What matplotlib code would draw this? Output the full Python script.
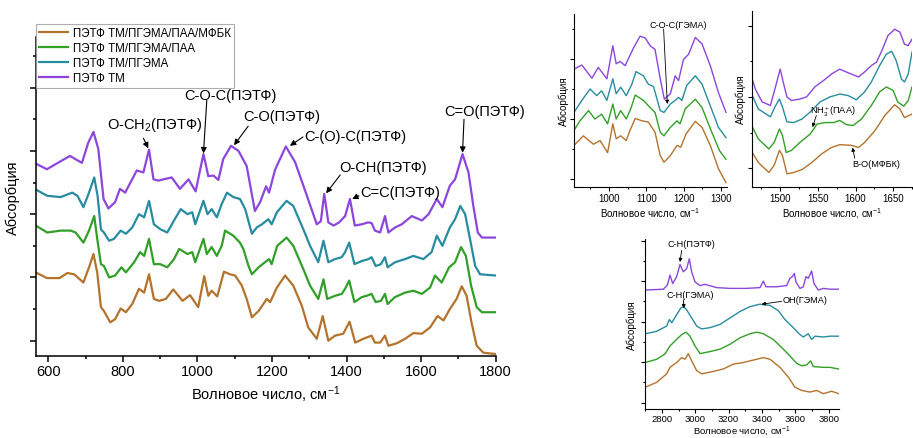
import matplotlib
matplotlib.use("Agg")
import matplotlib.pyplot as plt
from matplotlib.ticker import MultipleLocator, NullFormatter

plt.rcParams['font.family'] = ['Liberation Sans', 'DejaVu Sans']
plt.rcParams['mathtext.fontset'] = 'custom'
plt.rcParams['mathtext.rm'] = 'Liberation Sans'
plt.rcParams['mathtext.it'] = 'Liberation Sans:italic'
plt.rcParams['mathtext.bf'] = 'Liberation Sans:bold'

# ---------------- data: main panel (600-1800 cm-1) ----------------
series_names = ["ПЭТФ ТМ/ПГЭМА/ПАА/МФБК", "ПЭТФ ТМ/ПГЭМА/ПАА", "ПЭТФ ТМ/ПГЭМА", "ПЭТФ ТМ"]
series_colors = ["#B4732D", "#32A028", "#288CA0", "#8C46DC"]

main_wn_pet = [566,596,631,658,690,707,721,734,748,761,779,792,806,837,855,870,882,895,908,931,953,976,995,1016,1029,1043,1056,1069,1090,1110,1132,1154,1168,1184,1192,1208,1237,1262,1290,1320,1331,1340,1351,1365,1380,1396,1409,1422,1441,1458,1467,1476,1490,1503,1512,1530,1548,1575,1602,1620,1642,1657,1677,1691,1711,1727,1740,1752,1763,1800]
main_ab_pet = [2.80,2.71,2.83,2.92,2.81,3.13,3.30,3.03,2.24,2.09,2.19,2.40,2.34,2.69,2.66,3.02,2.55,2.53,2.55,2.58,2.40,2.55,2.36,2.95,2.60,2.61,2.54,2.87,3.08,3.00,2.76,2.05,2.19,2.44,2.34,2.70,3.07,2.82,2.35,1.84,1.89,2.32,1.87,1.82,1.87,1.97,2.24,1.82,1.84,1.87,1.86,1.74,1.71,1.97,1.71,1.79,1.84,1.97,1.90,2.00,2.24,2.11,2.45,2.55,2.95,2.66,2.13,1.71,1.63,1.63]

main_wn_hema = [566,597,633,664,678,694,709,723,732,741,749,763,776,794,808,825,843,857,870,883,901,919,937,955,973,986,994,1016,1027,1038,1052,1065,1079,1096,1114,1128,1146,1159,1173,1190,1199,1213,1239,1257,1284,1302,1324,1338,1351,1369,1387,1396,1407,1421,1441,1459,1467,1478,1492,1503,1510,1530,1557,1579,1606,1628,1642,1657,1677,1691,1705,1718,1731,1745,1758,1800]
main_ab_hema = [2.39,2.29,2.27,2.34,2.29,2.11,2.34,2.58,2.29,1.76,1.71,1.58,1.61,1.74,1.69,1.79,2.00,1.95,2.21,1.84,1.76,1.71,1.90,2.08,2.00,2.03,1.84,2.21,2.00,2.08,1.95,2.16,2.34,2.27,2.24,2.08,1.69,1.79,1.84,1.92,1.84,2.03,2.21,2.13,1.76,1.50,1.24,1.58,1.24,1.29,1.32,1.40,1.55,1.21,1.26,1.29,1.32,1.18,1.21,1.32,1.16,1.24,1.29,1.34,1.29,1.40,1.66,1.50,1.79,1.92,2.13,2.00,1.61,1.18,1.05,1.03]

main_wn_paa = [566,597,633,660,673,694,709,723,731,741,749,763,779,796,808,830,846,857,870,883,900,919,937,951,973,986,994,1016,1025,1038,1052,1065,1074,1096,1114,1123,1137,1146,1164,1181,1192,1199,1214,1239,1257,1284,1302,1324,1338,1348,1369,1387,1396,1407,1421,1441,1454,1467,1478,1492,1503,1510,1530,1557,1579,1602,1624,1637,1655,1675,1691,1707,1720,1734,1749,1763,1800]
main_ab_paa = [1.82,1.71,1.74,1.74,1.71,1.55,1.74,1.97,1.61,1.21,1.18,1.00,1.03,1.16,1.08,1.24,1.40,1.34,1.61,1.21,1.21,1.16,1.29,1.45,1.37,1.40,1.24,1.61,1.37,1.48,1.34,1.50,1.74,1.66,1.55,1.45,1.18,1.05,1.16,1.24,1.29,1.21,1.50,1.63,1.50,1.13,0.87,0.66,0.97,0.66,0.71,0.74,0.82,0.95,0.61,0.69,0.71,0.74,0.61,0.63,0.74,0.58,0.69,0.76,0.79,0.74,0.84,1.03,0.92,1.16,1.24,1.48,1.34,0.87,0.53,0.45,0.45]

main_wn_mfbk = [566,596,630,651,669,694,709,721,731,741,749,766,779,794,808,825,843,857,870,883,897,915,935,960,980,1002,1018,1029,1038,1053,1071,1087,1101,1119,1132,1146,1164,1186,1195,1213,1235,1257,1280,1297,1320,1336,1351,1369,1391,1408,1423,1445,1467,1476,1490,1503,1512,1535,1557,1579,1602,1624,1644,1660,1677,1695,1709,1722,1735,1749,1767,1800]
main_ab_mfbk = [1.08,0.99,0.99,1.07,1.05,0.92,1.16,1.37,1.08,0.53,0.47,0.29,0.34,0.51,0.45,0.58,0.82,0.76,1.05,0.66,0.63,0.66,0.81,0.63,0.72,0.53,1.02,0.71,0.79,0.70,1.09,1.05,1.03,0.87,0.66,0.37,0.47,0.66,0.61,0.84,1.03,0.87,0.55,0.21,0.03,0.39,0.00,0.08,0.11,0.30,-0.03,0.03,0.08,-0.03,-0.03,0.08,-0.08,-0.04,0.03,0.12,0.11,0.21,0.39,0.32,0.50,0.66,0.86,0.71,0.29,-0.08,-0.19,-0.21]

# ---------------- data: inset 1 (900-1320 cm-1) ----------------
in1_wn_pet = [906,927,954,971,994,1010,1019,1029,1043,1065,1083,1097,1110,1123,1137,1148,1164,1177,1186,1199,1213,1231,1249,1271,1293,1313]
in1_ab_pet = [1.83,1.90,1.68,1.86,1.67,2.22,1.92,1.96,1.89,2.18,2.38,2.35,2.22,2.16,1.67,1.33,1.42,1.72,1.64,1.99,2.08,2.36,2.25,1.89,1.44,1.11]
in1_wn_hema = [906,927,949,967,980,994,1010,1019,1031,1046,1061,1072,1092,1105,1119,1137,1147,1164,1177,1186,1195,1208,1231,1249,1271,1293,1313]
in1_ab_hema = [1.11,1.31,1.50,1.39,1.47,1.31,1.67,1.42,1.53,1.39,1.58,1.79,1.72,1.58,1.54,1.14,1.11,1.25,1.31,1.36,1.31,1.56,1.72,1.58,1.22,0.86,0.69]
in1_wn_paa = [906,922,945,962,980,996,1010,1019,1031,1046,1058,1070,1092,1110,1123,1137,1147,1164,1182,1190,1204,1231,1249,1275,1296,1313]
in1_ab_paa = [0.81,0.97,1.14,1.00,1.08,0.92,1.25,1.00,1.14,1.00,1.17,1.40,1.31,1.19,1.11,0.78,0.72,0.86,0.97,0.92,1.17,1.33,1.19,0.78,0.47,0.33]
in1_wn_mfbk = [906,931,958,976,996,1010,1019,1031,1046,1056,1070,1088,1105,1123,1137,1147,1164,1182,1192,1206,1231,1249,1271,1293,1313]
in1_ab_mfbk = [0.56,0.72,0.58,0.64,0.44,0.92,0.67,0.72,0.64,0.81,1.01,0.97,0.95,0.78,0.39,0.28,0.39,0.56,0.53,0.75,0.96,0.86,0.56,0.17,-0.06]

# ---------------- data: inset 2 (1460-1675 cm-1) ----------------
in2_wn_pet = [1463,1467,1476,1487,1493,1500,1504,1509,1515,1526,1535,1546,1560,1568,1579,1590,1604,1612,1621,1628,1635,1643,1652,1659,1665,1670,1675]
in2_ab_pet = [1.25,1.11,0.93,0.88,1.11,1.39,1.21,1.00,0.95,0.97,1.00,1.14,1.25,1.32,1.39,1.34,1.28,1.35,1.44,1.49,1.65,1.86,1.95,1.91,1.74,1.72,1.81]
in2_wn_hema = [1463,1471,1487,1493,1499,1503,1509,1518,1529,1540,1553,1566,1579,1590,1601,1612,1621,1632,1641,1648,1654,1661,1665,1670,1675]
in2_ab_hema = [1.02,0.83,0.72,0.86,0.97,0.86,0.65,0.64,0.69,0.79,0.93,1.00,1.04,1.02,0.96,1.07,1.21,1.44,1.60,1.64,1.51,1.25,1.21,1.32,1.63]
in2_wn_paa = [1463,1471,1485,1492,1499,1503,1508,1515,1526,1540,1549,1560,1571,1579,1588,1597,1608,1621,1632,1641,1650,1656,1664,1670,1675]
in2_ab_paa = [0.58,0.41,0.27,0.36,0.55,0.46,0.22,0.25,0.36,0.48,0.62,0.64,0.64,0.67,0.61,0.60,0.69,0.88,1.07,1.14,1.09,0.93,0.87,0.95,1.14]
in2_wn_mfbk = [1463,1471,1485,1492,1499,1503,1509,1518,1529,1542,1555,1568,1579,1595,1604,1612,1626,1639,1652,1659,1665,1675]
in2_ab_mfbk = [0.22,0.08,-0.06,0.04,0.25,0.18,-0.08,-0.06,-0.02,0.08,0.20,0.29,0.33,0.32,0.29,0.36,0.53,0.74,0.89,0.83,0.71,0.76]

# ---------------- data: inset 3 (2700-3860 cm-1) ----------------
in3_wn_pet = [2700,2808,2832,2848,2864,2888,2908,2928,2948,2964,2978,2998,3028,3058,3128,3208,3308,3388,3408,3424,3488,3548,3568,3582,3594,3604,3628,3648,3664,3678,3698,3712,3738,3768,3808,3860]
in3_ab_pet = [2.78,2.80,2.90,3.15,2.94,3.11,3.41,3.23,3.31,3.55,3.23,2.98,2.89,2.92,2.84,2.82,2.82,2.84,3.00,2.86,2.86,2.89,3.07,3.11,3.19,2.98,2.82,2.86,3.11,3.07,3.25,2.94,2.78,2.82,2.80,2.80]
in3_wn_hema = [2700,2768,2828,2844,2858,2888,2912,2928,2948,2978,3008,3038,3088,3148,3208,3268,3328,3388,3448,3498,3538,3588,3628,3648,3678,3698,3718,3768,3808,3860]
in3_ab_hema = [1.70,1.76,1.89,2.05,1.97,2.17,2.33,2.37,2.29,2.09,1.89,1.82,1.85,1.93,2.09,2.25,2.37,2.43,2.40,2.27,2.05,1.85,1.68,1.62,1.70,1.56,1.64,1.62,1.64,1.64]
in3_wn_paa = [2700,2768,2818,2848,2888,2918,2944,2968,2998,3028,3088,3148,3208,3268,3328,3368,3408,3468,3528,3568,3608,3638,3668,3692,3708,3768,3808,3860]
in3_ab_paa = [0.99,1.07,1.20,1.40,1.56,1.68,1.74,1.64,1.40,1.21,1.26,1.32,1.44,1.60,1.70,1.74,1.70,1.56,1.32,1.15,0.97,0.91,0.93,1.03,0.89,0.87,0.87,0.83]
in3_wn_mfbk = [2700,2768,2828,2848,2888,2918,2938,2958,2978,3008,3038,3108,3168,3228,3288,3348,3408,3448,3508,3558,3598,3638,3688,3728,3768,3818,3860]
in3_ab_mfbk = [0.38,0.50,0.71,0.87,0.99,1.11,1.07,1.21,1.03,0.79,0.71,0.77,0.83,0.95,0.99,1.05,1.11,1.07,0.87,0.63,0.38,0.30,0.26,0.30,0.22,0.28,0.22]

# annotation texts
main_labels = ["O-CH$_2$(ПЭТФ)", "C-O-C(ПЭТФ)", "C-O(ПЭТФ)", "C-(O)-C(ПЭТФ)", "O-CH(ПЭТФ)", "C=C(ПЭТФ)", "C=O(ПЭТФ)"]
in1_labels = ["C-O-C(ГЭМА)"]
in2_labels = ["NH$_3^+$(ПАА)", "B-O(МФБК)"]
in3_labels = ["C-H(ПЭТФ)", "C-H(ГЭМА)", "OH(ГЭМА)"]
xlabel_text = "Волновое число, см$^{-1}$"
ylabel_text = "Абсорбция"

W, H = 913, 439
fig = plt.figure(figsize=(W / 100, H / 100), dpi=100)


def add_axes_px(left, top, right, bottom):
    return fig.add_axes([left / W, 1 - bottom / H, (right - left) / W, (bottom - top) / H])


def style(ax, fs, major_len, minor_len, lw, pad=2):
    for s in ("top", "right"):
        ax.spines[s].set_visible(False)
    for s in ("left", "bottom"):
        ax.spines[s].set_linewidth(lw)
    ax.tick_params(which="major", direction="out", length=major_len, width=lw, labelsize=fs, pad=pad)
    ax.tick_params(which="minor", direction="out", length=minor_len, width=lw)
    ax.yaxis.set_major_formatter(NullFormatter())


def ann(ax, text, txy, tail, head, fs, lw):
    ax.text(txy[0], txy[1], text, fontsize=fs, ha="center", va="center")
    ax.annotate("", xy=head, xytext=tail,
                arrowprops=dict(arrowstyle="-|>", color="black", lw=lw,
                                mutation_scale=fs * 0.8, shrinkA=0, shrinkB=0))


# ---------------- main ----------------
ax = add_axes_px(35.7, 38, 495.7, 356.7)
main_x = [main_wn_mfbk, main_wn_paa, main_wn_hema, main_wn_pet]
main_y = [main_ab_mfbk, main_ab_paa, main_ab_hema, main_ab_pet]
for xs, ys, c, n in zip(main_x, main_y, series_colors, series_names):
    ax.plot(xs, ys, color=c, lw=1.6, label=n, solid_joinstyle="round")
ax.set_xlim(566, 1800)
ax.set_ylim(-0.237, 4.80)
ax.xaxis.set_major_locator(MultipleLocator(200))
ax.xaxis.set_minor_locator(MultipleLocator(100))
ax.yaxis.set_major_locator(MultipleLocator(1))
ax.yaxis.set_minor_locator(MultipleLocator(0.5))
style(ax, 10.5, 4, 2.5, 1.1)
ax.set_xlabel(xlabel_text, fontsize=10.5, labelpad=4)
ax.set_ylabel(ylabel_text, fontsize=10.5)
ax.yaxis.set_label_coords(-0.034, 0.5)

main_txt = [(886, 3.42), (1088, 3.88), (1227, 3.55), (1423, 3.23), (1498, 2.74), (1543, 2.35), (1770, 3.63)]
main_tail = [(855, 3.2), (1025, 3.80), (1136, 3.39), (1283, 3.22), (1383, 2.62), (1433, 2.29), (1715, 3.50)]
main_head = [(868, 3.04), (1016, 2.96), (1098, 3.09), (1248, 3.08), (1345, 2.33), (1415, 2.24), (1711, 2.97)]
for t, p, a, b in zip(main_labels, main_txt, main_tail, main_head):
    ann(ax, t, p, a, b, 10.5, 0.8)

leg = ax.legend(loc="upper left", bbox_to_anchor=(36 / W, 1 - 25 / H), bbox_transform=fig.transFigure,
                fontsize=8.3, frameon=True, fancybox=False, borderaxespad=0, handlelength=2.5,
                handletextpad=0.4, labelspacing=0.25, borderpad=0.3)
leg.get_frame().set_edgecolor("#9a9a9a")
leg.get_frame().set_linewidth(0.8)

# ---------------- inset 1 ----------------
a1 = add_axes_px(574, 15, 726.7, 187.7)
for xs, ys, c in zip([in1_wn_mfbk, in1_wn_paa, in1_wn_hema, in1_wn_pet],
                     [in1_ab_mfbk, in1_ab_paa, in1_ab_hema, in1_ab_pet], series_colors):
    a1.plot(xs, ys, color=c, lw=1.0, solid_joinstyle="round")
a1.set_xlim(906, 1315)
a1.set_ylim(-0.128, 2.75)
a1.xaxis.set_major_locator(MultipleLocator(100))
a1.xaxis.set_minor_locator(MultipleLocator(50))
a1.yaxis.set_major_locator(MultipleLocator(1))
a1.yaxis.set_minor_locator(MultipleLocator(0.5))
style(a1, 7, 3, 1.5, 0.8, pad=1.5)
a1.set_xlabel(xlabel_text, fontsize=7, labelpad=1.5)
a1.set_ylabel(ylabel_text, fontsize=7)
a1.yaxis.set_label_coords(-0.033, 0.5)
ann(a1, in1_labels[0], (1186, 2.58), (1146, 2.50), (1156, 1.25), 6.6, 0.6)

# ---------------- inset 2 ----------------
a2 = add_axes_px(752.3, 11.7, 912, 187.7)
for xs, ys, c in zip([in2_wn_mfbk, in2_wn_paa, in2_wn_hema, in2_wn_pet],
                     [in2_ab_mfbk, in2_ab_paa, in2_ab_hema, in2_ab_pet], series_colors):
    a2.plot(xs, ys, color=c, lw=1.0, solid_joinstyle="round")
a2.set_xlim(1463, 1675)
a2.set_ylim(-0.26, 2.21)
a2.xaxis.set_major_locator(MultipleLocator(50))
a2.xaxis.set_minor_locator(MultipleLocator(25))
a2.yaxis.set_major_locator(MultipleLocator(1))
a2.yaxis.set_minor_locator(MultipleLocator(0.5))
style(a2, 7, 3, 1.5, 0.8, pad=1.5)
a2.set_xlabel(xlabel_text, fontsize=7, labelpad=1.5)
a2.set_ylabel(ylabel_text, fontsize=7)
a2.yaxis.set_label_coords(-0.04, 0.5)
ann(a2, in2_labels[0], (1570, 0.81), (1548, 0.74), (1543, 0.575), 6.6, 0.6)
ann(a2, in2_labels[1], (1628, 0.07), (1599, 0.14), (1596, 0.29), 6.6, 0.6)

# ---------------- inset 3 ----------------
a3 = add_axes_px(645, 240, 839.3, 409.5)
for xs, ys, c in zip([in3_wn_mfbk, in3_wn_paa, in3_wn_hema, in3_wn_pet],
                     [in3_ab_mfbk, in3_ab_paa, in3_ab_hema, in3_ab_pet], series_colors):
    a3.plot(xs, ys, color=c, lw=1.0, solid_joinstyle="round")
a3.set_xlim(2698, 3864)
a3.set_ylim(-0.146, 4.04)
a3.xaxis.set_major_locator(MultipleLocator(200))
a3.xaxis.set_minor_locator(MultipleLocator(100))
a3.yaxis.set_major_locator(MultipleLocator(1))
a3.yaxis.set_minor_locator(MultipleLocator(0.5))
style(a3, 6.8, 3, 1.5, 0.8, pad=1)
a3.set_xlabel(xlabel_text, fontsize=6.8, labelpad=0)
a3.set_ylabel(ylabel_text, fontsize=7)
a3.yaxis.set_label_coords(-0.04, 0.5)
ann(a3, in3_labels[0], (2974, 3.94), (2918, 3.76), (2908, 3.47), 6.6, 0.6)
ann(a3, in3_labels[1], (2968, 2.68), (2928, 2.54), (2932, 2.33), 6.6, 0.6)
ann(a3, in3_labels[2], (3658, 2.54), (3518, 2.50), (3398, 2.43), 6.6, 0.6)

fig.savefig("out.png", dpi=100)
